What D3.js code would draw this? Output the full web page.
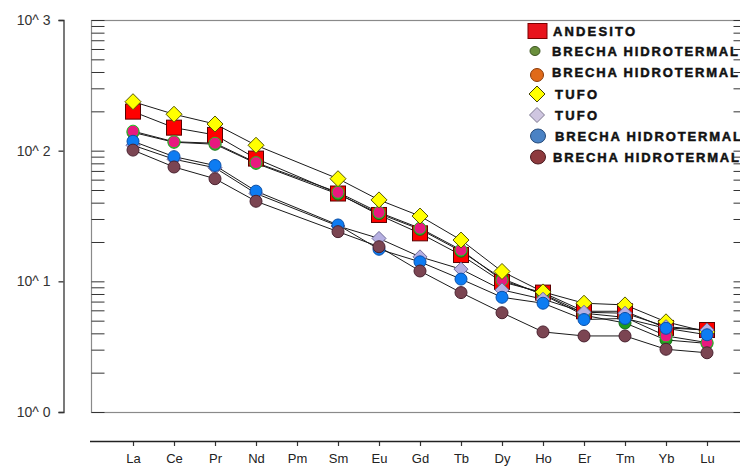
<!DOCTYPE html>
<html>
<head>
<meta charset="utf-8">
<script src="https://cdn.jsdelivr.net/npm/d3@7"></script>
<style>
  html, body { margin: 0; padding: 0; background: #ffffff; }
  svg { display: block; }
</style>
</head>
<body>
<svg id="chart" width="740" height="470"></svg>
<script>
// Rare earth element pattern (normalised concentrations, log scale)
const elements = ["La","Ce","Pr","Nd","Pm","Sm","Eu","Gd","Tb","Dy","Ho","Er","Tm","Yb","Lu"];

const andesito       = [199, 150, 132, 87, null, 47, 32.2, 23.3, 15.9, 9.9, 8.2, 5.9, 5.9, 4.4, 4.24];
const brechaVerde    = [138, 116, 112, 80, null, 46.5, 33, 25, 17, 10.5, 7.9, 5.5, 4.8, 3.56, 3.35];
const brechaNaranja  = [141, 117, 114, 81, null, 48, 33.7, 25.5, 17.4, 10.2, 8.0, 5.7, 5.3, 3.82, 3.4];
const tufoAmarillo   = [237, 190, 160, 110, null, 61, 42, 31.6, 20.7, 11.9, 8.3, 6.8, 6.6, 4.9, 4.1];
const tufoLila       = [110, 86, 74, 47, null, 26.5, 21.3, 15.4, 12.4, 8.6, 7.3, 5.8, 5.7, 4.5, 4.24];
const brechaAzul     = [118, 90, 77, 49, null, 27, 17.6, 14.1, 10.4, 7.55, 6.8, 5.1, 5.2, 4.37, 3.9];
const brechaGranate  = [101, 75, 61, 41, null, 24, 18.4, 12, 8.2, 5.75, 4.1, 3.82, 3.82, 3.02, 2.84];

const seriesNames = ["ANDESITO","BRECHA HIDROTERMAL","BRECHA HIDROTERMAL","TUFO","TUFO","BRECHA HIDROTERMAL","BRECHA HIDROTERMAL"];
const yTickValues = [1, 10, 100, 1000];

const series = [
  { name: seriesNames[0], values: andesito,      shape: "square",  fill: "#ff0000", stroke: "#5a0000", size: 15,
    legend: { shape: "square",  fill: "#e8141c", stroke: "#7a0000" } },
  { name: seriesNames[1], values: brechaVerde,   shape: "circle",  fill: "#1f9a1f", stroke: "#137013", size: 12,
    legend: { shape: "circle",  fill: "#6a8f3c", stroke: "#3d5522", w: 10, h: 9 } },
  { name: seriesNames[2], values: brechaNaranja, shape: "circle",  fill: "#e8197f", stroke: "#22c322", size: 12,
    legend: { shape: "circle",  fill: "#e06a1a", stroke: "#8a3a08", w: 13, h: 13 } },
  { name: seriesNames[3], values: tufoAmarillo,  shape: "diamond", fill: "#ffff00", stroke: "#555500", size: 16,
    legend: { shape: "diamond", fill: "#ffff00", stroke: "#444400", s: 16 } },
  { name: seriesNames[4], values: tufoLila,      shape: "diamond", fill: "#b6b0e2", stroke: "#6e6a98", size: 14,
    legend: { shape: "diamond", fill: "#cfc6e0", stroke: "#7e7890", s: 15 } },
  { name: seriesNames[5], values: brechaAzul,    shape: "circle",  fill: "#0d7cf2", stroke: "#0a4fa8", size: 12,
    legend: { shape: "circle",  fill: "#4a82c4", stroke: "#244a7a", w: 15, h: 14 } },
  { name: seriesNames[6], values: brechaGranate, shape: "circle",  fill: "#7b4552", stroke: "#4a2230", size: 12,
    legend: { shape: "circle",  fill: "#8e3a3e", stroke: "#4a1a1e", w: 15, h: 14 } }
];

const svg = d3.select("#chart");

// plotting frame
const frame = { left: 91, right: 746, top: 20, bottom: 412 };

const x = d3.scalePoint().domain(elements).range([133, 707]);
const y = d3.scaleLog().domain([1, 1000]).range([frame.bottom, frame.top]);

// frame rectangle
svg.append("rect")
  .attr("x", frame.left + 0.5).attr("y", frame.top + 0.5)
  .attr("width", frame.right - frame.left).attr("height", frame.bottom - frame.top)
  .attr("fill", "none").attr("stroke", "#8a8a8a").attr("stroke-width", 1.2);

// minor ticks (1..9 per decade) inside the frame, left and right
const minorTicks = [];
for (let d = 1; d <= 1000; d *= 10) {
  for (let k = 1; k <= 9; k++) {
    const v = d * k;
    if (v <= 1000) minorTicks.push(v);
  }
}

const innerLeft = svg.append("g")
  .attr("transform", `translate(${frame.left + 0.5},0)`)
  .call(d3.axisRight(y).tickValues(minorTicks).tickSize(13).tickFormat(""));
innerLeft.select(".domain").remove();
innerLeft.selectAll(".tick line").attr("stroke", "#333").attr("stroke-width", 1);

const innerRight = svg.append("g")
  .attr("transform", `translate(${frame.right + 0.5},0)`)
  .call(d3.axisLeft(y).tickValues(minorTicks).tickSize(13).tickFormat(""));
innerRight.select(".domain").remove();
innerRight.selectAll(".tick line").attr("stroke", "#333").attr("stroke-width", 1);

// outer left axis with decade labels
const leftAxis = svg.append("g")
  .attr("transform", "translate(63.5,0)")
  .call(d3.axisLeft(y).tickValues(yTickValues).tickSizeOuter(0).tickSize(5)
    .tickFormat(d => "10^ " + Math.round(Math.log10(d))));
leftAxis.select(".domain").attr("stroke", "#333").attr("stroke-width", 1.3);
leftAxis.selectAll(".tick line").attr("stroke", "#333").attr("stroke-width", 1.3);
leftAxis.selectAll(".tick text")
  .attr("x", -13)
  .attr("font-family", "Liberation Sans, Arial, sans-serif")
  .attr("font-size", 14).attr("fill", "#333");

// bottom category axis
const bottomAxis = svg.append("g")
  .attr("transform", "translate(0,441)")
  .call(d3.axisBottom(x).tickSize(5).tickSizeOuter(0));
bottomAxis.select(".domain").remove();
bottomAxis.append("line")
  .attr("x1", 90).attr("x2", 740).attr("y1", 0.5).attr("y2", 0.5)
  .attr("stroke", "#222").attr("stroke-width", 1.5);
bottomAxis.selectAll(".tick line").attr("stroke", "#333").attr("stroke-width", 1.2);
bottomAxis.selectAll(".tick text")
  .attr("y", 13)
  .attr("font-family", "Liberation Sans, Arial, sans-serif")
  .attr("font-size", 13).attr("fill", "#222");

// connecting lines (Pm has no value, lines bridge across it)
const line = d3.line()
  .x(d => x(d.el))
  .y(d => y(d.v));

const pointsOf = s => elements
  .map((el, i) => ({ el, v: s.values[i] }))
  .filter(d => d.v != null);

const linesG = svg.append("g");
series.forEach(s => {
  linesG.append("path")
    .datum(pointsOf(s))
    .attr("d", line)
    .attr("fill", "none")
    .attr("stroke", "#1a1a1a")
    .attr("stroke-width", 1);
});

// markers
function drawMarker(g, shape, cx, cy, opts) {
  if (shape === "square") {
    const w = opts.w || opts.size, h = opts.h || opts.size;
    g.append("rect")
      .attr("x", cx - w / 2).attr("y", cy - h / 2)
      .attr("width", w).attr("height", h)
      .attr("fill", opts.fill).attr("stroke", opts.stroke).attr("stroke-width", 1);
  } else if (shape === "diamond") {
    const r = (opts.s || opts.size) / 2;
    g.append("path")
      .attr("d", `M${cx},${cy - r}L${cx + r},${cy}L${cx},${cy + r}L${cx - r},${cy}Z`)
      .attr("fill", opts.fill).attr("stroke", opts.stroke).attr("stroke-width", 1);
  } else {
    const rx = (opts.w || opts.size) / 2, ry = (opts.h || opts.size) / 2;
    g.append("ellipse")
      .attr("cx", cx).attr("cy", cy).attr("rx", rx).attr("ry", ry)
      .attr("fill", opts.fill).attr("stroke", opts.stroke).attr("stroke-width", 1);
  }
}

const marksG = svg.append("g");
series.forEach(s => {
  const g = marksG.append("g");
  pointsOf(s).forEach(d => {
    drawMarker(g, s.shape, x(d.el), y(d.v), { fill: s.fill, stroke: s.stroke, size: s.size });
  });
});

// legend
const legendRows = [31, 51, 72, 94, 115, 136, 157];
const legendTextX = [553, 552, 552, 555, 555, 555, 553];
const legendTextW = [82, 186, 186, 42, 42, 186, 186];
const legendMarkX = [537.5, 535, 537, 537, 537, 538, 538];
const legendG = svg.append("g");
series.forEach((s, i) => {
  const lg = s.legend;
  if (lg.shape === "square") {
    drawMarker(legendG, "square", legendMarkX[i], legendRows[i], { fill: lg.fill, stroke: lg.stroke, w: 19, h: 15 });
  } else {
    drawMarker(legendG, lg.shape, legendMarkX[i], legendRows[i] + (i === 2 ? 3 : 0), lg);
  }
  legendG.append("text")
    .attr("x", legendTextX[i])
    .attr("y", legendRows[i] + 4.5)
    .attr("font-family", "Liberation Sans, Arial, sans-serif")
    .attr("font-weight", "bold")
    .attr("font-size", 13)
    .attr("fill", "#111")
    .attr("stroke", "#111")
    .attr("stroke-width", 0.5)
    .attr("textLength", legendTextW[i])
    .attr("lengthAdjust", "spacing")
    .text(s.name);
});
</script>
</body>
</html>
